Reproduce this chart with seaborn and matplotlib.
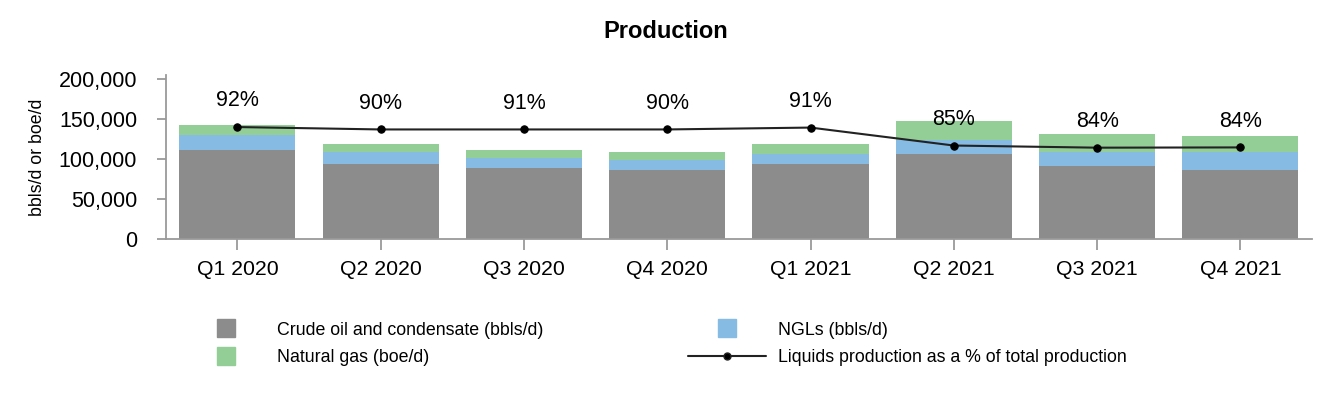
import matplotlib
matplotlib.use("Agg")
import matplotlib.pyplot as plt
from matplotlib.lines import Line2D
from matplotlib.ticker import FuncFormatter
import seaborn as sns
import numpy as np

quarters = ["Q1 2020", "Q2 2020", "Q3 2020", "Q4 2020", "Q1 2021", "Q2 2021", "Q3 2021", "Q4 2021"]
crude = [111600, 94000, 89000, 86600, 94000, 106600, 91600, 86600]
ngls = [17900, 14700, 12600, 12400, 12600, 17400, 17400, 22400]
natgas = [12100, 10300, 10000, 10000, 12400, 22600, 22600, 20000]
liquids_pct = [91.9, 91.0, 91.0, 91.0, 91.7, 85.0, 84.2, 84.3]
pct_labels = ["92%", "90%", "91%", "90%", "91%", "85%", "84%", "84%"]

c_crude = "#8c8c8c"
c_ngl = "#86bce4"
c_gas = "#93ce97"

sns.set_theme(style="white")
plt.rcParams["font.family"] = ["Liberation Sans", "DejaVu Sans"]
plt.rcParams["text.color"] = "black"
plt.rcParams["axes.labelcolor"] = "black"

fig = plt.figure(figsize=(13.32, 4.0), dpi=100)
ax = fig.add_axes([0.1244, 0.4017, 0.8606, 0.41])

tot = np.array(crude) + np.array(ngls) + np.array(natgas)
liq = np.array(crude) + np.array(ngls)
bw = 0.81
sns.barplot(x=quarters, y=tot, order=quarters, color=c_gas, width=bw, ax=ax, saturation=1, edgecolor="none", linewidth=0)
sns.barplot(x=quarters, y=liq, order=quarters, color=c_ngl, width=bw, ax=ax, saturation=1, edgecolor="none", linewidth=0)
sns.barplot(x=quarters, y=crude, order=quarters, color=c_crude, width=bw, ax=ax, saturation=1, edgecolor="none", linewidth=0)

ymax = 204000
ax.set_ylim(0, ymax)
ax.set_xlim(-0.5, len(quarters) - 0.5)
ax.set_yticks([0, 50000, 100000, 150000, 200000])
ax.yaxis.set_major_formatter(FuncFormatter(lambda v, p: f"{int(v):,}"))
ax.set_ylabel("bbls/d or boe/d", fontsize=12.8, color="black", labelpad=9)
ax.set_xlabel("")
for s in ["top", "right"]:
    ax.spines[s].set_visible(False)
for s in ["left", "bottom"]:
    ax.spines[s].set_color("#9a9a9a")
    ax.spines[s].set_linewidth(1.3)
ax.tick_params(axis="y", which="both", left=True, length=6.5, width=1.3, color="#9a9a9a", labelsize=15.5, pad=14, labelcolor="black")
ax.tick_params(axis="x", which="both", bottom=True, length=8, width=1.3, color="#9a9a9a", labelsize=15.3, pad=7, labelcolor="black")

ax2 = ax.twinx()
ax2.set_ylim(50, 50 + 60 * ymax / 200000)
sns.lineplot(x=quarters, y=liquids_pct, ax=ax2, sort=False, color="#222222", linewidth=1.5,
             marker="o", markersize=5.3, markeredgecolor="black", markerfacecolor="black")
for i, (v, lab) in enumerate(zip(liquids_pct, pct_labels)):
    ax2.annotate(lab, (i, v), xytext=(0, 18.8), textcoords="offset points", ha="center", va="center",
                 fontsize=15.5, color="black")
ax2.set_yticks([])
ax2.set_ylabel("")
for s in ax2.spines.values():
    s.set_visible(False)

fig.text(0.5, 1 - 31 / 400, "Production", fontsize=17, fontweight="bold", ha="center", va="center", color="black")

handles = [
    Line2D([], [], linestyle="none", marker="s", markersize=13, color=c_crude),
    Line2D([], [], linestyle="none", marker="s", markersize=13, color=c_gas),
    Line2D([], [], linestyle="none", marker="s", markersize=13, color=c_ngl),
    Line2D([], [], color="#222222", linewidth=1.5, marker="o", markersize=5, markerfacecolor="black"),
]
labels = ["Crude oil and condensate (bbls/d)", "Natural gas (boe/d)", "NGLs (bbls/d)",
          "Liquids production as a % of total production"]
fig.legend(handles, labels, ncol=2, loc="upper left", bbox_to_anchor=(0.1404, 0.196), frameon=False,
           fontsize=12.8, handlelength=4.4, handletextpad=0.67, columnspacing=8.12, labelspacing=0.58,
           borderaxespad=0, borderpad=0)

fig.savefig("out.png", dpi=100)
